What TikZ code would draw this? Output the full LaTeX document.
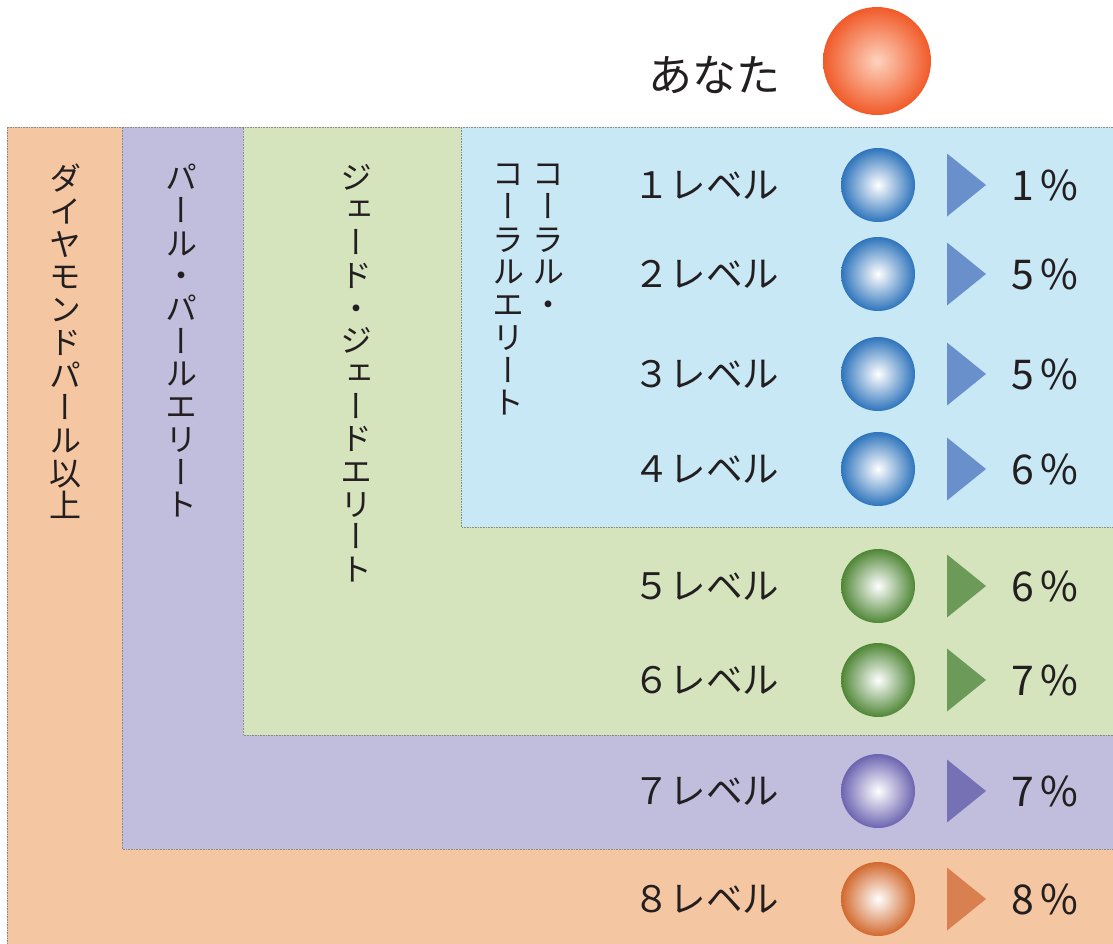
\documentclass[tikz,border=0pt]{standalone}
\usepackage{fontspec}
\setmainfont{Noto Sans CJK JP}
\newfontfamily\vertjp[RawFeature=+vert]{Noto Sans CJK JP}

\definecolor{ink}{HTML}{231F20}
\definecolor{edge}{HTML}{8A8A8A}
% band backgrounds
\definecolor{diamondbg}{HTML}{F4C6A1}
\definecolor{pearlbg}{HTML}{C1BEDD}
\definecolor{jadebg}{HTML}{D6E4BE}
\definecolor{coralbg}{HTML}{C9E8F6}
% balls and triangles
\definecolor{coralball}{HTML}{2E74BC}
\definecolor{coraltri}{HTML}{6A90CB}
\definecolor{jadeball}{HTML}{4F8636}
\definecolor{jadetri}{HTML}{6C9A58}
\definecolor{pearlball}{HTML}{6C64B0}
\definecolor{pearltri}{HTML}{7571B4}
\definecolor{diamondball}{HTML}{D2692E}
\definecolor{diamondtri}{HTML}{D8804F}
\definecolor{youball}{HTML}{F15A29}
\definecolor{youcore}{HTML}{FDD3BE}

\tikzset{
  band/.style={draw=edge, densely dotted, line width=0.6pt},
  vlabel/.style={anchor=north, inner sep=0pt, align=center, text=ink,
    font=\vertjp\fontsize{32}{32.7}\selectfont},
  lvltext/.style={anchor=west, inner sep=0pt, text=ink,
    font=\fontsize{36.5}{36.5}\selectfont},
  pcttext/.style={anchor=east, inner sep=0pt, text=ink,
    font=\fontsize{41}{41}\selectfont},
  ball/.style={circle, inner sep=0pt, minimum size=74pt, shade,
    inner color=white, outer color=#1},
}

\begin{document}
\begin{tikzpicture}[x=1pt,y=-1pt]
  \useasboundingbox (0,0) rectangle (1113,943);

  % nested bands
  \fill[diamondbg] (7,127) rectangle (1116,946);
  \draw[band] (1116,127) -- (7,127) -- (7,946);
  \fill[pearlbg] (122,127) rectangle (1116,849);
  \draw[band] (1116,127) -- (122,127) -- (122,849) -- (1116,849);
  \fill[jadebg] (243,127) rectangle (1116,735);
  \draw[band] (1116,127) -- (243,127) -- (243,735) -- (1116,735);
  \fill[coralbg] (461,127) rectangle (1116,527);
  \draw[band] (1116,127) -- (461,127) -- (461,527) -- (1116,527);

  % you
  \node[ball=youball, inner color=youcore, minimum size=108pt] (you) at (877,61) {};
  \node[inner sep=0pt, text=ink, font=\fontsize{44}{44}\selectfont] (youtext) at (714,75) {あなた};

  % vertical rank names
  \node[vlabel] (diamond) at (65,164) {ダ\\イ\\ヤ\\モ\\ン\\ド\\パ\\ー\\ル\\以\\上};
  \node[vlabel] (pearl) at (181,164) {パ\\ー\\ル\\・\\パ\\ー\\ル\\エ\\リ\\ー\\ト};
  \node[vlabel] (jade) at (356,164) {ジ\\ェ\\ー\\ド\\・\\ジ\\ェ\\ー\\ド\\エ\\リ\\ー\\ト};
  \node[vlabel] (coral) at (548,164) {コ\\ー\\ラ\\ル\\・};
  \node[vlabel] (coralelite) at (508,164) {コ\\ー\\ラ\\ル\\エ\\リ\\ー\\ト};

  % levels
  \foreach \i/\y/\lvl/\pct/\c in {1/185/１レベル/1/coral, 2/274/２レベル/5/coral,
      3/374/３レベル/5/coral, 4/469/４レベル/6/coral, 5/586/５レベル/6/jade,
      6/680/６レベル/7/jade, 7/791/７レベル/7/pearl, 8/899/８レベル/8/diamond} {
    \node[lvltext] (lvl\i) at (633,\y) {\lvl};
    \node[ball=\c ball] (ball\i) at (878,\y) {};
    \fill[\c tri] (947,\y-31.5) -- (986,\y) -- (947,\y+31.5) -- cycle;
    \node[pcttext] (pct\i) at (1078,\y) {\pct\kern6pt\%};
  }
\end{tikzpicture}
\end{document}
